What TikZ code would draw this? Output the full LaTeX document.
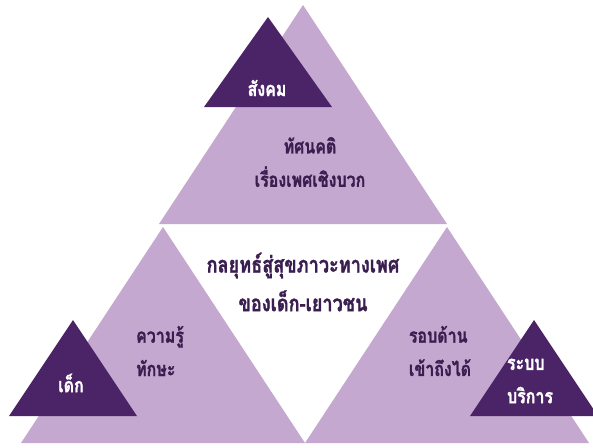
\documentclass[tikz,border=0pt]{standalone}
\usepackage{fontspec}
\newfontfamily\thaifont[Script=Thai,FakeStretch=0.8,FakeBold=1.2]{Loma}
\definecolor{lightpurple}{HTML}{C5A8CF}
\definecolor{darkpurple}{HTML}{4B2468}
\definecolor{textpurple}{HTML}{3A1E50}
\tikzset{
  bigtri/.style={fill=lightpurple},
  smalltri/.style={fill=darkpurple},
  lbl/.style={font=\thaifont\bfseries\fontsize{15}{25}\selectfont, text=textpurple, align=center, inner sep=0pt},
  wlbl/.style={lbl, text=white}
}
\begin{document}
\begin{tikzpicture}[x=0.75pt,y=-0.75pt]
\clip (0,0) rectangle (593,447);
\fill[white] (0,0) rectangle (593,447);
\fill[bigtri] (303,5) -- (447,224) -- (159,224) -- cycle;
\fill[bigtri] (163,227) -- (305,443) -- (21,443) -- cycle;
\fill[bigtri] (447,227) -- (589,443) -- (305,443) -- cycle;
\fill[smalltri] (268,17) -- (332,107) -- (204,107) -- cycle;
\fill[smalltri] (73,320) -- (137,416) -- (9,416) -- cycle;
\fill[smalltri] (534,320) -- (598,416) -- (470,416) -- cycle;

\node[wlbl] (society) at (267,88) {สังคม};
\node[lbl] (attitude) at (310,162) {ทัศนคติ\\เรื่องเพศเชิงบวก};
\node[lbl, font=\thaifont\bfseries\fontsize{17}{29}\selectfont] (strategy) at (303,282) {กลยุทธ์สู่สุขภาวะทางเพศ\\ของเด็ก-เยาวชน};
\node[lbl, align=left] (skills) at (160,351) {ความรู้\\ทักษะ};
\node[wlbl] (child) at (71,383) {เด็ก};
\node[lbl, align=left] (access) at (440,351) {รอบด้าน\\เข้าถึงได้};
\node[wlbl, align=left] (service) at (530,381) {ระบบ\\บริการ};
\end{tikzpicture}
\end{document}
